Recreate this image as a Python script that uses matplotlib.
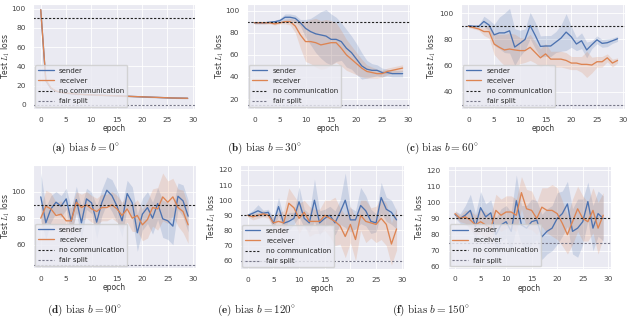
import numpy as np
import matplotlib
matplotlib.use("Agg")
import matplotlib.pyplot as plt
import seaborn as sns

epochs = np.arange(30)

# bias 0
a_sender = [99, 25, 17, 14, 13, 12, 11.5, 11, 10.8, 10.5, 10.3, 10, 9.8, 9.6, 9.4,
            9.2, 9, 8.8, 8.6, 8.4, 8.2, 8, 7.8, 7.6, 7.4, 7.2, 7, 6.9, 6.8, 6.7]
a_receiver = [99, 26, 17.5, 14.2, 13, 12.1, 11.6, 11.1, 10.8, 10.5, 10.3, 10, 9.8, 9.6, 9.4,
              9.2, 9, 8.8, 8.6, 8.4, 8.2, 8, 7.8, 7.6, 7.4, 7.2, 7, 6.9, 6.8, 6.7]
a_sender_sd = [0.5] * 30
a_receiver_sd = [0.5] * 30

# bias 30
b_sender = [89, 89, 89, 89.5, 90, 91, 94, 94, 93, 89, 84, 81, 79, 78, 77,
            74, 74, 72, 66, 62, 56, 50, 47, 46, 46, 44, 44, 43, 43, 43]
b_receiver = [89, 89, 89, 89, 88, 89, 90, 90, 86, 78, 72, 72, 71, 69, 70,
              71, 71, 66, 60, 56, 52, 48, 45, 44, 43, 43, 45, 46, 47, 48]
b_sender_sd = [1, 1, 1, 1, 1, 2, 3, 3, 3, 3, 8, 12, 17, 21, 24,
               23, 20, 17, 17, 15, 14, 12, 8, 6, 5, 4, 3, 3, 3, 3]
b_receiver_sd = [1, 1, 1, 1, 1, 1, 2, 3, 6, 12, 18, 20, 22, 22, 22,
                 20, 18, 16, 14, 12, 10, 8, 6, 5, 4, 3, 3, 3, 3, 3]

# bias 60
c_sender = [90.5, 90, 90, 93.7, 91, 83.5, 85, 85, 86.6, 74.2, 77, 80, 90.6, 83, 74.7,
            75, 75, 78, 81, 85.6, 82, 76.5, 79, 72, 76, 79.7, 77, 77.5, 79, 80.5]
c_receiver = [90, 89, 88, 86, 86, 76.5, 74, 72, 72.7, 72, 71.5, 71.5, 74, 70, 66,
              69, 65, 65, 65, 64, 62, 62, 61, 61, 60.5, 63, 63, 66, 62, 64]
c_sender_sd = [1, 1, 1, 4, 4, 8, 12, 15, 17, 14, 10, 8, 10, 10, 8,
               8, 8, 8, 10, 14, 8, 5, 6, 6, 3, 3, 3, 3, 2, 2]
c_receiver_sd = [1, 1, 1, 3, 5, 8, 10, 12, 12, 12, 10, 9, 10, 8, 7,
                 8, 6, 6, 6, 6, 5, 5, 6, 10, 6, 4, 4, 3, 3, 2]

# bias 90
d_sender = [96, 76.5, 87, 92, 89, 94.5, 77.8, 94, 76.5, 94.5, 91.5, 77, 91.5, 101, 97,
            89, 78, 98.5, 91.5, 69, 83, 88, 80, 91, 79.5, 78, 74, 96.5, 93, 81.5]
d_receiver = [80, 89, 87, 82, 83, 78, 78, 92, 88, 90, 87, 85, 88, 88, 90,
              87, 82, 87, 80, 82, 75, 79, 88, 87, 96, 92, 96, 88, 85, 75]
d_sender_sd = [18, 12, 10, 8, 8, 8, 10, 10, 12, 8, 8, 12, 10, 10, 12,
               12, 12, 10, 12, 14, 12, 12, 12, 12, 14, 14, 14, 10, 12, 12]
d_receiver_sd = [8, 12, 12, 10, 10, 10, 10, 8, 10, 10, 10, 10, 10, 10, 10,
                 10, 10, 10, 10, 12, 12, 14, 14, 16, 18, 16, 14, 14, 16, 14]

# bias 120
e_sender = [90, 91.4, 93, 91.4, 92, 84.8, 95.8, 84.8, 86, 88, 99, 88, 85, 100, 85,
            88, 90, 85, 92, 100, 87, 87, 96.5, 93, 86, 85, 101.8, 94, 92, 87]
e_receiver = [90, 89, 90, 91, 90, 85, 86, 85, 98, 95, 88, 92, 86, 86, 86,
              90, 88, 86, 83, 76, 84, 74, 90, 86, 85, 84, 88, 84, 71, 81]
e_sender_sd = [1, 2, 4, 2, 2, 4, 6, 4, 6, 4, 10, 6, 6, 14, 8,
               6, 6, 8, 8, 18, 8, 6, 12, 10, 8, 6, 10, 8, 8, 6]
e_receiver_sd = [1, 2, 2, 2, 2, 4, 6, 8, 10, 8, 10, 8, 10, 8, 8,
                 10, 12, 16, 12, 14, 12, 14, 10, 14, 10, 12, 14, 14, 14, 14]

# bias 150
f_sender = [92.4, 90, 92, 95, 85, 96.7, 91, 93.5, 80, 86, 88, 82, 101, 86, 84,
            88, 89, 78.6, 82, 84, 90, 93, 99, 82, 84, 88, 100.5, 84, 93, 90]
f_receiver = [93, 90, 91, 89, 86, 88, 86, 84, 95, 92, 94, 94, 92, 106, 96,
              95, 90, 97, 95, 95, 93, 87, 80, 88, 96, 90, 88, 95, 84, 92]
f_sender_sd = [2, 3, 6, 10, 8, 10, 8, 8, 10, 10, 10, 12, 16, 12, 14,
               14, 12, 14, 14, 14, 16, 14, 14, 14, 18, 14, 12, 14, 14, 14]
f_receiver_sd = [2, 2, 4, 6, 6, 8, 8, 8, 10, 10, 10, 10, 10, 10, 12,
                 12, 10, 12, 14, 16, 16, 14, 12, 14, 14, 14, 12, 14, 16, 14]

no_comm = 90
fair_split = [0, 15, 30, 45, 60, 75]
biases = [0, 30, 60, 90, 120, 150]
letters = ["a", "b", "c", "d", "e", "f"]

senders = [a_sender, b_sender, c_sender, d_sender, e_sender, f_sender]
receivers = [a_receiver, b_receiver, c_receiver, d_receiver, e_receiver, f_receiver]
sender_sds = [a_sender_sd, b_sender_sd, c_sender_sd, d_sender_sd, e_sender_sd, f_sender_sd]
receiver_sds = [a_receiver_sd, b_receiver_sd, c_receiver_sd, d_receiver_sd, e_receiver_sd, f_receiver_sd]

ylims = [(-4.5, 105), (11, 106), (27, 107), (42.5, 120), (54.5, 123.3), (59, 122.5)]
yticks = [np.arange(0, 101, 20), np.arange(20, 101, 20), np.arange(40, 101, 20),
          np.arange(60, 101, 20), np.arange(60, 121, 10), np.arange(60, 121, 10)]

# pixel boxes: left, right, top, bottom
W, H = 627, 318
boxes = [(33.4, 195, 4, 109), (247, 410, 4, 109), (461, 625, 4, 109),
         (33.4, 195.5, 165, 268), (240.3, 404, 165, 269), (447.6, 610.6, 166, 268.5)]
ylabel_x = [8.5, 222, 435, 8, 214, 422]   # centre of the y label, pixels
captions_xy = [(85, 148), (264, 148), (442, 148), (84, 310), (257, 310), (431, 310)]

sns.set_style("darkgrid")
plt.rcParams["mathtext.fontset"] = "cm"
plt.rcParams["font.family"] = ["DejaVu Sans"]

blue = "#4c72b0"
orange = "#dd8452"

fig = plt.figure(figsize=(W / 100, H / 100), dpi=100)

for i in range(6):
    l, r, t, b = boxes[i]
    ax = fig.add_axes([l / W, 1 - b / H, (r - l) / W, (b - t) / H])
    s = np.array(senders[i])
    rc = np.array(receivers[i])
    ssd = np.array(sender_sds[i])
    rsd = np.array(receiver_sds[i])
    ax.fill_between(epochs, s - ssd, s + ssd, color=blue, alpha=0.2, lw=0)
    ax.fill_between(epochs, rc - rsd, rc + rsd, color=orange, alpha=0.2, lw=0)
    ax.plot(epochs, s, color=blue, lw=0.95, label="sender")
    ax.plot(epochs, rc, color=orange, lw=0.95, label="receiver")
    ax.axhline(no_comm, color="#222222", ls=(0, (2, 1.5)), lw=0.8, label="no communication")
    ax.axhline(fair_split[i], color="#777788", ls=(0, (2, 1.5)), lw=0.8, label="fair split")
    ax.set_xlim(-1.45, 30.45)
    ax.set_xticks(np.arange(0, 31, 5))
    ax.set_ylim(*ylims[i])
    ax.set_yticks(yticks[i])
    ax.tick_params(labelsize=5.3, pad=2, colors="#444444")
    ax.set_xlabel("epoch", fontsize=5.5, labelpad=1, color="#333333")
    ax.set_ylabel("Test $L_1$ loss", fontsize=5.5, color="#333333")
    ax.yaxis.set_label_coords((ylabel_x[i] + 3.5 - l) / (r - l), 0.5)
    ax.grid(lw=0.6)
    ax.legend(loc="lower left", fontsize=5, framealpha=0.8, borderaxespad=0.3,
              handlelength=2.2, labelspacing=0.6)
    cx, cy = captions_xy[i]
    fig.text(cx / W, 1 - cy / H,
             r"$\mathbf{(%s)}\ \mathrm{bias}\ b = %d^{\circ}$" % (letters[i], biases[i]),
             ha="center", va="center", fontsize=8)

fig.savefig("out.png", dpi=100, facecolor="white")
